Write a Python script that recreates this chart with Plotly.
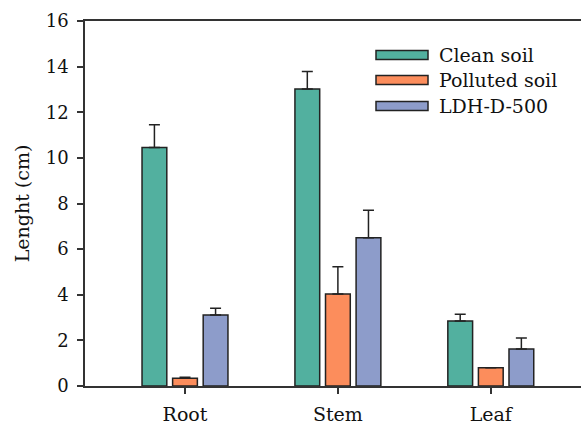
import plotly.graph_objects as go

categories = ["Root", "Stem", "Leaf"]
series_names = ["Clean soil", "Polluted soil", "LDH-D-500"]
clean = [10.45, 13.02, 2.85]
clean_err = [1.0, 0.77, 0.3]
polluted = [0.34, 4.03, 0.80]
polluted_err = [0.04, 1.2, 0.0]
ldh = [3.11, 6.5, 1.62]
ldh_err = [0.3, 1.2, 0.48]
y_ticks = [0, 2, 4, 6, 8, 10, 12, 14, 16]

colors = ["#52B09F", "#FC8D5C", "#8D9CCA"]
values = [clean, polluted, ldh]
errors = [clean_err, polluted_err, ldh_err]

FONT = "DejaVu Serif"
TXT = "#111111"

fig = go.Figure()
for name, v, e, c in zip(series_names, values, errors, colors):
    fig.add_trace(go.Bar(
        x=categories, y=v, name=name,
        marker=dict(color=c, line=dict(color="#222222", width=1.5)),
        error_y=dict(type="data", symmetric=False, array=e,
                     arrayminus=[0] * len(e), color="#222222",
                     thickness=1.5, width=5.5),
        showlegend=False,
    ))

# legend drawn as swatches + labels (paper coordinates)
leg_y = [55, 80, 106]
for name, c, yy in zip(series_names, colors, leg_y):
    fig.add_shape(type="rect", xref="paper", yref="paper",
                  x0=(376 - 85) / 496, x1=(428 - 85) / 496,
                  y0=(386 - (yy - 4.5)) / 365, y1=(386 - (yy + 4.5)) / 365,
                  fillcolor=c, line=dict(color="#222222", width=1.5))
    fig.add_annotation(xref="paper", yref="paper",
                       x=(437 - 85) / 496, y=(386 - yy) / 365,
                       text=name, showarrow=False, xanchor="left",
                       yanchor="middle",
                       font=dict(family=FONT, size=19, color=TXT))

fig.update_layout(
    width=581, height=425,
    margin=dict(l=85, r=0, t=21, b=39),
    paper_bgcolor="white", plot_bgcolor="white",
    barmode="group", bargap=0.4, bargroupgap=0.19,
    font=dict(family=FONT, size=19, color=TXT),
    xaxis=dict(range=[-0.654, 2.59], showline=True, linecolor="#333333",
               linewidth=1.5, mirror=True, ticks="outside", ticklen=6,
               tickwidth=1.5, tickcolor="#333333", showgrid=False,
               ticklabelstandoff=4, automargin=False,
               tickfont=dict(family=FONT, size=19, color=TXT)),
    yaxis=dict(range=[0, 16], tickvals=y_ticks, showline=True,
               linecolor="#333333", linewidth=1.5, ticks="outside",
               ticklen=6, tickwidth=1.5, tickcolor="#333333",
               showgrid=False, zeroline=False, ticklabelstandoff=5,
               automargin=False,
               title=dict(text="Lenght (cm)", standoff=11,
                          font=dict(family=FONT, size=19, color=TXT)),
               tickfont=dict(family=FONT, size=18, color=TXT)),
)

fig.write_html("out.html")
